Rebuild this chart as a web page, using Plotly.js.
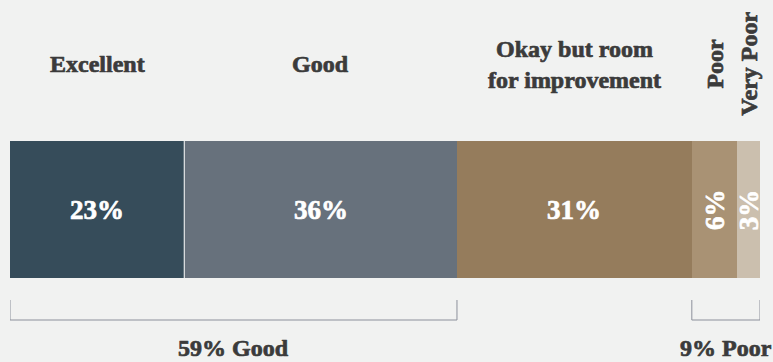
<!DOCTYPE html>
<html>
<head>
<meta charset="utf-8">
<script src="https://cdn.plot.ly/plotly-3.0.1.min.js"></script>
<style>
  html, body { margin: 0; padding: 0; background: #f1f2f1; }
  #chart { width: 773px; height: 362px; }
</style>
</head>
<body>
<div id="chart"></div>
<script>
// ---- data ----
const categories = ['Excellent', 'Good', 'Okay but room<br>for improvement', 'Poor', 'Very Poor'];
const values = [23, 36, 31, 6, 3];
const valueLabels = ['23%', '36%', '31%', '6%', '3%'];
const groupLabels = ['59% Good', '9% Poor'];
const groupMembers = [[0, 1], [3, 4]];

// ---- styles ----
const colors = ['#364c5a', '#67717c', '#957c5c', '#a99274', '#cbbfae'];
const FONT = '"Liberation Serif", "Times New Roman", serif';
const textColor = '#3b3b3b';
const W = 773, H = 362;
const py = p => 1 - p / H;

const total = values.reduce((a, b) => a + b, 0);
const starts = [];
let acc = 0;
values.forEach(v => { starts.push(acc); acc += v; });

const traces = categories.map((c, i) => ({
  type: 'bar',
  orientation: 'h',
  name: c,
  y: [0],
  x: [values[i]],
  width: [1],
  marker: { color: colors[i], line: { width: 0 } },
  hoverinfo: 'skip',
  showlegend: false
}));

const annotations = [];
const shapes = [];

categories.forEach((c, i) => {
  const mid = starts[i] + values[i] / 2;
  const small = values[i] < 10;
  annotations.push({
    x: mid, xref: 'x', y: py(64), yref: 'paper',
    text: '<b>' + c + '</b>', showarrow: false,
    textangle: small ? -90 : 0,
    xanchor: 'center', yanchor: 'middle',
    font: { family: FONT, size: 24, color: textColor }
  });
  annotations.push({
    x: mid, xref: 'x', y: 0, yref: 'y',
    text: '<b>' + valueLabels[i] + '</b>', showarrow: false,
    textangle: small ? -90 : 0,
    xanchor: 'center', yanchor: 'middle',
    font: { family: FONT, size: 27, color: '#ffffff' }
  });
});

// white separator after first segment
shapes.push({
  type: 'line', xref: 'x', yref: 'y',
  x0: values[0], x1: values[0], y0: -0.5, y1: 0.5,
  line: { color: '#ffffff', width: 1 }
});

groupMembers.forEach((m, g) => {
  const x0 = starts[m[0]];
  const x1 = starts[m[m.length - 1]] + values[m[m.length - 1]];
  const yt = py(300), yb = py(320);
  const lc = { color: '#8c909b', width: 1 };
  shapes.push({ type: 'line', xref: 'x', yref: 'paper', x0: x0, x1: x0, y0: yt, y1: yb, line: lc });
  shapes.push({ type: 'line', xref: 'x', yref: 'paper', x0: x1, x1: x1, y0: yt, y1: yb, line: lc });
  shapes.push({ type: 'line', xref: 'x', yref: 'paper', x0: x0, x1: x1, y0: yb, y1: yb, line: lc });
  annotations.push({
    x: (x0 + x1) / 2, xref: 'x', y: py(348), yref: 'paper',
    text: '<b>' + groupLabels[g] + '</b>', showarrow: false,
    xanchor: 'center', yanchor: 'middle',
    font: { family: FONT, size: 24, color: textColor }
  });
});

const layout = {
  width: W, height: H,
  margin: { l: 10, r: 13, t: 0, b: 0, pad: 0 },
  paper_bgcolor: '#f1f2f1',
  plot_bgcolor: 'rgba(0,0,0,0)',
  barmode: 'stack',
  bargap: 0,
  xaxis: { range: [0, total], visible: false, fixedrange: true },
  yaxis: { range: [-1.113, 1.529], visible: false, fixedrange: true },
  annotations: annotations,
  shapes: shapes,
  showlegend: false
};

Plotly.newPlot('chart', traces, layout, { displayModeBar: false, staticPlot: true }).then(gd => {
  // embolden the serif text slightly to match the heavy display face
  gd.querySelectorAll('.annotation-text').forEach(t => {
    const f = t.style.fill || t.getAttribute('fill');
    if (f) {
      t.style.stroke = f;
      t.style.strokeWidth = '0.7px';
      t.style.strokeLinejoin = 'round';
    }
  });
});
</script>
</body>
</html>
